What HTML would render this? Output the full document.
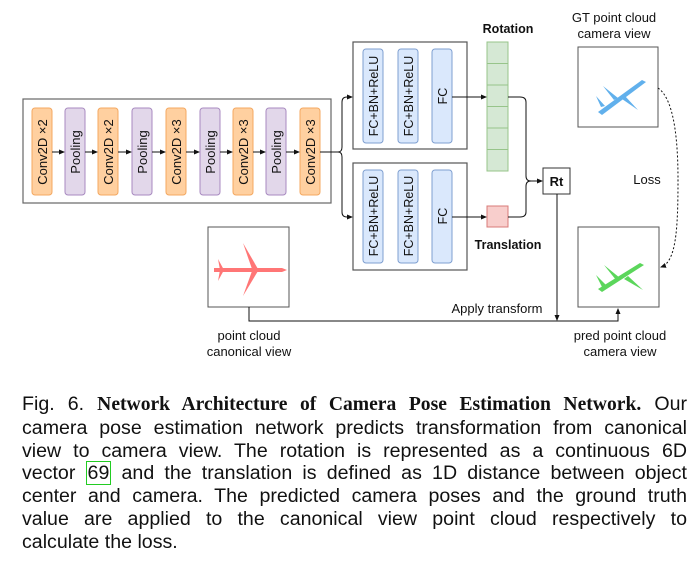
<!DOCTYPE html>
<html><head><style>
body{margin:0;background:#fff;width:699px;height:566px;overflow:hidden;position:relative;font-family:"Liberation Sans",sans-serif}
.cap{position:absolute;left:22px;top:393px;width:665px;font-size:19.6px;line-height:22.8px;color:#111}
.cap div{text-align:justify;text-align-last:justify;white-space:nowrap}
.cap div.l{text-align-last:left}
.cap b{font-family:"Liberation Serif",serif;font-size:19.6px}
.ref{border:1.5px solid #2c2;padding:0 1px}
</style></head><body>
<svg width="699" height="390" style="position:absolute;left:0;top:0" font-family="Liberation Sans, sans-serif">
<defs><marker id="a" markerWidth="6" markerHeight="6" refX="5" refY="3" orient="auto"><path d="M0,0.5 L6,3 L0,5.5 z" fill="#111"/></marker></defs>
<rect x="23" y="99" width="308" height="104" fill="#fff" stroke="#666" stroke-width="1.2"/>
<g stroke-width="1">
<g fill="#ffd0a0" stroke="#f4a860">
<rect x="32" y="108" width="20" height="87" rx="3"/><rect x="98" y="108" width="20" height="87" rx="3"/><rect x="166" y="108" width="20" height="87" rx="3"/><rect x="233" y="108" width="20" height="87" rx="3"/><rect x="300" y="108" width="20" height="87" rx="3"/></g>
<g fill="#e2d7ea" stroke="#a88ac0">
<rect x="65" y="108" width="20" height="87" rx="3"/><rect x="132" y="108" width="20" height="87" rx="3"/><rect x="200" y="108" width="20" height="87" rx="3"/><rect x="266" y="108" width="20" height="87" rx="3"/></g>
</g>
<g stroke="#111" stroke-width="1" marker-end="url(#a)">
<line x1="52" y1="152" x2="64" y2="152"/><line x1="85" y1="152" x2="97" y2="152"/><line x1="118" y1="152" x2="131" y2="152"/><line x1="152" y1="152" x2="165" y2="152"/><line x1="186" y1="152" x2="199" y2="152"/><line x1="220" y1="152" x2="232" y2="152"/><line x1="253" y1="152" x2="265" y2="152"/><line x1="286" y1="152" x2="299" y2="152"/>
</g>
<g font-size="13" fill="#111" text-anchor="middle">
<text transform="translate(47,152) rotate(-90)">Conv2D ×2</text><text transform="translate(113,152) rotate(-90)">Conv2D ×2</text><text transform="translate(181,152) rotate(-90)">Conv2D ×3</text><text transform="translate(248,152) rotate(-90)">Conv2D ×3</text><text transform="translate(315,152) rotate(-90)">Conv2D ×3</text>
<text transform="translate(80,152) rotate(-90)">Pooling</text><text transform="translate(147,152) rotate(-90)">Pooling</text><text transform="translate(215,152) rotate(-90)">Pooling</text><text transform="translate(281,152) rotate(-90)">Pooling</text>
</g>
<path d="M320,152 H338 Q342,152 342,147 V102 Q342,97 347,97 H352" fill="none" stroke="#111" marker-end="url(#a)"/>
<path d="M338,152 Q342,152 342,157 V212 Q342,217 347,217 H352" fill="none" stroke="#111" marker-end="url(#a)"/>
<rect x="353" y="42" width="114" height="107" fill="#fff" stroke="#555" stroke-width="1.2"/>
<rect x="353" y="163" width="114" height="107" fill="#fff" stroke="#555" stroke-width="1.2"/>
<g fill="#dae8fc" stroke="#7f9fd0">
<rect x="363" y="49" width="20" height="94" rx="3"/><rect x="398" y="49" width="20" height="94" rx="3"/><rect x="432" y="49" width="20" height="94" rx="3"/>
<rect x="363" y="170" width="20" height="93" rx="3"/><rect x="398" y="170" width="20" height="93" rx="3"/><rect x="432" y="170" width="20" height="93" rx="3"/></g>
<g font-size="12.5" fill="#111" text-anchor="middle">
<text transform="translate(378,96) rotate(-90)">FC+BN+ReLU</text><text transform="translate(413,96) rotate(-90)">FC+BN+ReLU</text><text transform="translate(447,96) rotate(-90)">FC</text>
<text transform="translate(378,216) rotate(-90)">FC+BN+ReLU</text><text transform="translate(413,216) rotate(-90)">FC+BN+ReLU</text><text transform="translate(447,216) rotate(-90)">FC</text>
</g>
<g fill="#d5e8d4" stroke="#97c48a">
<rect x="487" y="42" width="21" height="21.5"/><rect x="487" y="63.5" width="21" height="21.5"/><rect x="487" y="85" width="21" height="21.5"/><rect x="487" y="106.5" width="21" height="21.5"/><rect x="487" y="128" width="21" height="21.5"/><rect x="487" y="149.5" width="21" height="21.5"/></g>
<rect x="487" y="206" width="21" height="21" fill="#f8cecc" stroke="#d87b78"/>
<line x1="452" y1="97" x2="486" y2="97" stroke="#111" marker-end="url(#a)"/>
<line x1="452" y1="217" x2="486" y2="217" stroke="#111" marker-end="url(#a)"/>
<path d="M508,97 H520 Q526,97 526,102 V176 Q526,181 531,181 H542" fill="none" stroke="#111" marker-end="url(#a)"/>
<path d="M508,217 H520 Q526,217 526,212 V186 Q526,181 531,181" fill="none" stroke="#111"/>
<text x="508" y="33" font-size="12.5" font-weight="bold" text-anchor="middle" fill="#111">Rotation</text>
<text x="508" y="249" font-size="12.5" font-weight="bold" text-anchor="middle" fill="#111">Translation</text>
<rect x="543" y="168" width="27" height="26" fill="#fff" stroke="#333"/>
<text x="556.5" y="186" font-size="13" font-weight="bold" text-anchor="middle" fill="#111">Rt</text>
<line x1="557" y1="194" x2="557" y2="320" stroke="#111" marker-end="url(#a)"/>
<text x="614" y="22" font-size="13" text-anchor="middle" fill="#111">GT point cloud</text>
<text x="614" y="38" font-size="13" text-anchor="middle" fill="#111">camera view</text>
<rect x="578" y="47" width="80" height="80" fill="#fff" stroke="#555"/>
<rect x="578" y="227" width="81" height="80" fill="#fff" stroke="#555"/>
<rect x="208" y="227" width="81" height="80" fill="#fff" stroke="#555"/>
<path d="M658,88 C676,100 678,150 678,180 C678,230 676,262 661,267" fill="none" stroke="#111" stroke-dasharray="2,2" marker-end="url(#a)"/>
<text x="647" y="184" font-size="13" text-anchor="middle" fill="#111">Loss</text>
<path d="M249,307 V321 H618 V309" fill="none" stroke="#111" marker-end="url(#a)"/>
<text x="497" y="313" font-size="13" text-anchor="middle" fill="#111">Apply transform</text>
<text x="249" y="340" font-size="13" text-anchor="middle" fill="#111">point cloud</text>
<text x="249" y="356" font-size="13" text-anchor="middle" fill="#111">canonical view</text>
<text x="620" y="340" font-size="13" text-anchor="middle" fill="#111">pred point cloud</text>
<text x="620" y="356" font-size="13" text-anchor="middle" fill="#111">camera view</text>
<g fill="#f55" opacity="0.8">
<path d="M214,268 H282 L287,270 L282,272 H214 Z"/><path d="M243,243 L258,269 L252,269 Z"/><path d="M243,296 L258,271 L252,271 Z"/><path d="M218,259 L224,270 L220,270 Z"/><path d="M218,281 L224,270 L220,270 Z"/></g>
<g fill="#3a9de8" opacity="0.8">
<path d="M598,112 L642,80 L646,82 L602,115 Z"/><path d="M603,86 L618,98 L614,100 Z"/><path d="M638,110 L625,96 L622,99 Z"/><path d="M596,96 L605,106 L601,107 Z"/></g>
<g fill="#3c3" opacity="0.8">
<path d="M598,289 L640,263 L644,265 L602,292 Z"/><path d="M604,265 L620,278 L616,280 Z"/><path d="M643,290 L628,276 L624,279 Z"/><path d="M596,275 L606,285 L602,287 Z"/></g>
</svg>
<div class="cap">
<div>Fig. 6. <b>Network Architecture of Camera Pose Estimation Network.</b> Our</div>
<div>camera pose estimation network predicts transformation from canonical</div>
<div>view to camera view. The rotation is represented as a continuous 6D</div>
<div>vector <span class="ref">69</span> and the translation is defined as 1D distance between object</div>
<div>center and camera. The predicted camera poses and the ground truth</div>
<div>value are applied to the canonical view point cloud respectively to</div>
<div class="l">calculate the loss.</div>
</div>
</body></html>
